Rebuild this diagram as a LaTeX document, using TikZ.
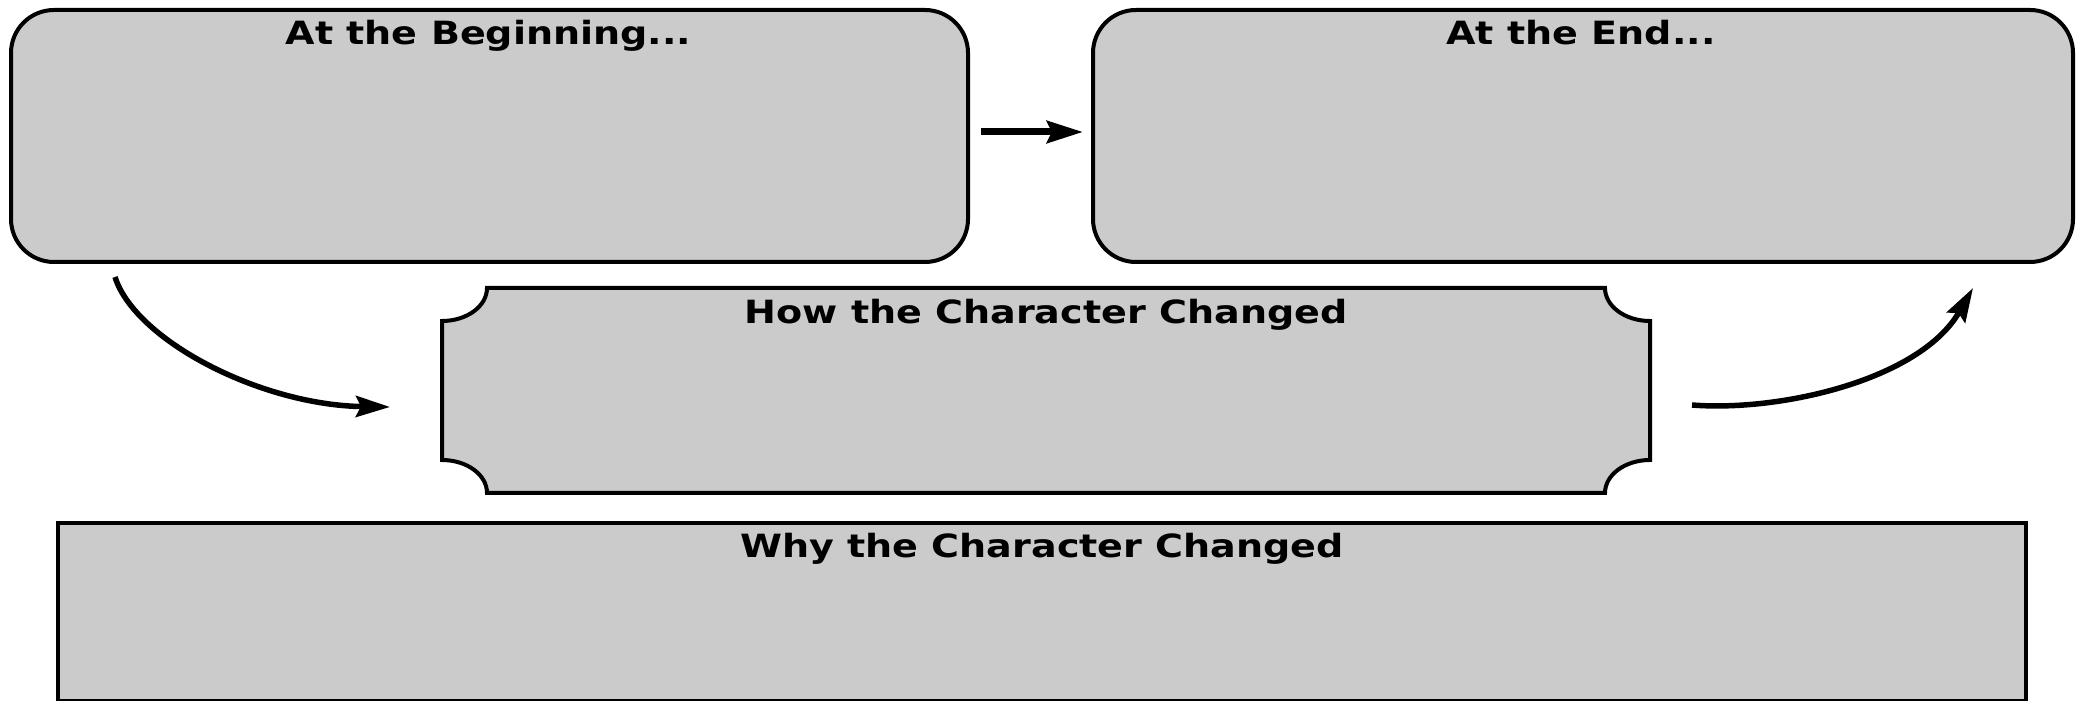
\documentclass[tikz,border=0pt]{standalone}
\usepackage{fontspec}
\setmainfont{DejaVu Sans}[FakeStretch=1.19]
\usetikzlibrary{arrows.meta}
\tikzset{
  box/.style={draw=black, line width=4pt, fill=boxgray, inner sep=0pt, outer sep=0pt},
  rbox/.style={box, rounded corners=43pt},
  title/.style={anchor=base, inner sep=0pt, font=\fontsize{32}{38}\selectfont\bfseries},
  flow/.style={line width=5.5pt, -{Stealth[length=34pt, width=21pt, inset=5pt]}},
  flowthick/.style={line width=7pt, -{Stealth[length=36pt, width=22pt, inset=5pt]}}
}
\definecolor{boxgray}{HTML}{CBCBCB}
\begin{document}
\begin{tikzpicture}[x=1pt, y=1pt]
\useasboundingbox (0,0) rectangle (2077,701);
\fill[white] (0,0) rectangle (2077,701);
% top boxes
\node[rbox, minimum width=957pt, minimum height=252pt] (begin) at (489.5,565) {};
\node[rbox, minimum width=980pt, minimum height=252pt] (end) at (1583,565) {};
% middle box with concave corners
\node[inner sep=0pt, outer sep=0pt, minimum width=1208pt, minimum height=205pt] (how) at (1046,310.5) {};
\filldraw[line width=4pt, fill=boxgray, draw=black]
  ([xshift=45pt]how.north west) -- ([xshift=-45pt]how.north east)
  arc[start angle=180, end angle=270, x radius=45pt, y radius=33pt]
  -- ([yshift=33pt]how.south east)
  arc[start angle=90, end angle=180, x radius=45pt, y radius=33pt]
  -- ([xshift=45pt]how.south west)
  arc[start angle=0, end angle=90, x radius=45pt, y radius=33pt]
  -- ([yshift=-33pt]how.north west)
  arc[start angle=270, end angle=360, x radius=45pt, y radius=33pt]
  -- cycle;
% bottom box
\node[box, line width=4.5pt, minimum width=1968pt, minimum height=178pt] (why) at (1042,89) {};
% titles
\node[title] (tbegin) at (488.5,656) {At the Beginning...};
\node[title] (tend) at (1581,656) {At the End...};
\node[title] (thow) at (1046,377) {How the Character Changed};
\node[title] (twhy) at (1042,143) {Why the Character Changed};
% connectors
\draw[flowthick] ([shift={(13,4)}]begin.east) -- ([shift={(-10,4)}]end.west);
\draw[flow] ([shift={(104,-15)}]begin.south west) .. controls (135,361) and (260,296) .. ([shift={(-52,-16.5)}]how.west);
\draw[flow] ([shift={(42,-14.5)}]how.east) .. controls (1780,289) and (1920,321) .. ([shift={(-100,-26)}]end.south east);
\end{tikzpicture}
\end{document}
